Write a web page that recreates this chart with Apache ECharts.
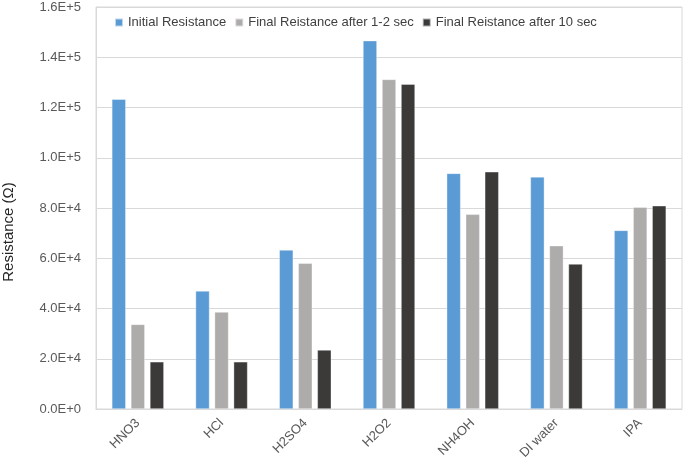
<!DOCTYPE html>
<html><head><meta charset="utf-8">
<script src="https://cdn.jsdelivr.net/npm/echarts@6/dist/echarts.min.js"></script>
<style>html,body{margin:0;padding:0;background:#fff}#c{width:685px;height:472px}</style>
</head><body><div id="c"></div>
<script>
const categories = ['HNO3','HCl','H2SO4','H2O2','NH4OH','DI water','IPA'];
const initialRes = [123300, 47000, 63300, 146600, 93800, 92400, 71100];
const final12 = [33700, 38600, 58000, 131200, 77500, 65000, 80300];
const final10 = [18800, 18800, 23500, 129300, 94400, 57700, 80900];
const seriesNames = ['Initial Resistance','Final Reistance after 1-2 sec','Final Reistance after 10 sec'];
const yTicks = ['0.0E+0','2.0E+4','4.0E+4','6.0E+4','8.0E+4','1.0E+5','1.2E+5','1.4E+5','1.6E+5'];

const font = 'Liberation Sans, Arial, sans-serif';
const colors = ['#5B9BD5','#AEACAB','#3B3A39'];
const chart = echarts.init(document.getElementById('c'));
const mk = (name, data, i) => ({
  name, type: 'bar', data,
  barWidth: 14, barGap: '36%',
  itemStyle: { color: colors[i], borderColor: 'rgba(255,255,255,0.6)', borderWidth: 0.6 }
});
chart.setOption({
  animation: false,
  color: colors,
  textStyle: { fontFamily: font },
  legend: {
    top: 11, left: 109, itemWidth: 8, itemHeight: 8, itemGap: 8,
    icon: 'rect',
    textStyle: { fontSize: 13, color: '#404040', fontFamily: font }
  },
  grid: { left: 96, right: 3, top: 7, bottom: 63, show: true, borderColor: '#D9D9D9', borderWidth: 1, outerBoundsMode: 'none', containLabel: false },
  xAxis: {
    type: 'category', data: categories,
    axisLine: { lineStyle: { color: '#D9D9D9' } },
    axisTick: { show: false },
    axisLabel: { rotate: 45, color: '#595959', fontSize: 13, margin: 12, fontFamily: font }
  },
  yAxis: {
    type: 'value', min: 0, max: 160000, interval: 20000,
    name: 'Resistance (Ω)', nameLocation: 'middle', nameGap: 80, nameRotate: 90,
    nameTextStyle: { fontSize: 15, color: '#262626', fontFamily: font, padding: [0, 48, 0, 0] },
    axisLine: { show: true, lineStyle: { color: '#D9D9D9' } },
    splitLine: { lineStyle: { color: '#D9D9D9' } },
    axisLabel: { color: '#595959', fontSize: 13, margin: 15, fontFamily: font,
      formatter: (v) => yTicks[Math.round(v / 20000)] }
  },
  series: [mk(seriesNames[0], initialRes, 0), mk(seriesNames[1], final12, 1), mk(seriesNames[2], final10, 2)]
});
</script></body></html>
